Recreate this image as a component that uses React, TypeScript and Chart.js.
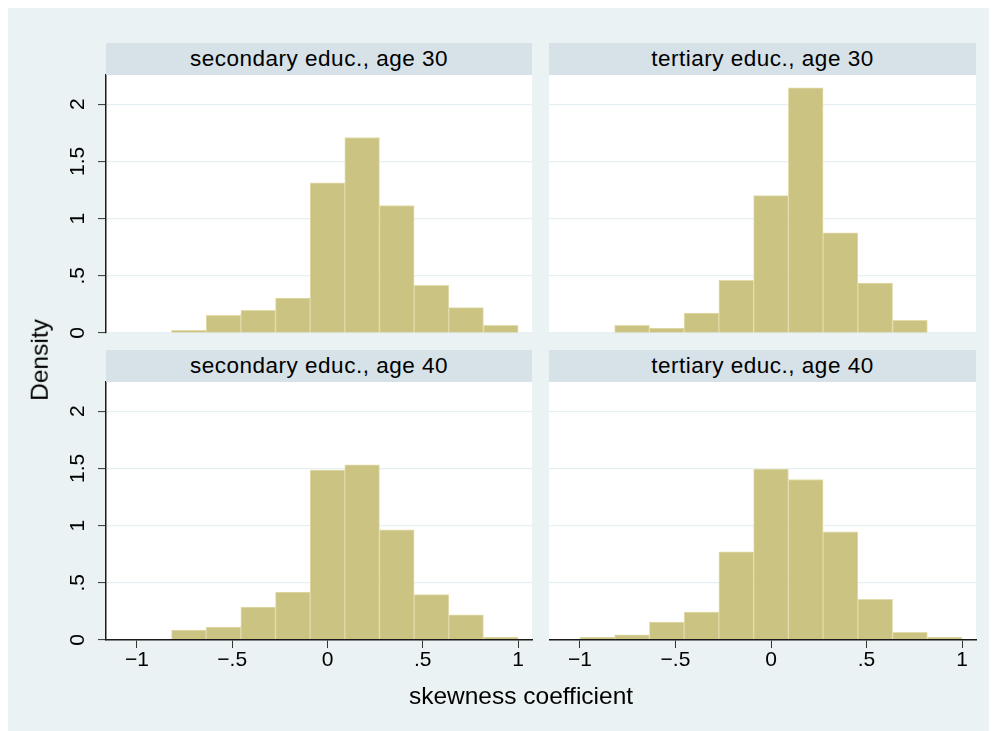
import React, { useEffect, useRef } from 'react';
import { Chart, registerables } from 'chart.js';

Chart.register(...registerables);

// ---- data ----
const binCenters = [-0.9091, -0.7273, -0.5455, -0.3636, -0.1818, 0, 0.1818, 0.3636, 0.5455, 0.7273, 0.9091];
const secondary30 = [null, 0.024, 0.155, 0.199, 0.306, 1.312, 1.709, 1.114, 0.417, 0.222, 0.067];
const tertiary30 = [null, 0.067, 0.044, 0.175, 0.461, 1.201, 2.143, 0.875, 0.437, 0.111, null];
const secondary40 = [null, 0.087, 0.114, 0.288, 0.419, 1.485, 1.531, 0.963, 0.396, 0.221, 0.026];
const tertiary40 = [0.026, 0.046, 0.157, 0.245, 0.771, 1.493, 1.403, 0.946, 0.355, 0.067, 0.026];

const panelTitles = [
  'secondary educ., age 30',
  'tertiary educ., age 30',
  'secondary educ., age 40',
  'tertiary educ., age 40',
];

const xTickValues = [-1, -0.5, 0, 0.5, 1];
const xTickLabels = ['\u22121', '\u2212.5', '0', '.5', '1'];
const yTickValues = [0, 0.5, 1, 1.5, 2];
const yTickLabels = ['0', '.5', '1', '1.5', '2'];
const xAxisTitle = 'skewness coefficient';
const yAxisTitle = 'Density';
const xRange = [-1.162, 1.073];
const yRange = [0, 2.255];

// ---- styles ----
const FONT = '"Liberation Sans", Arial, Helvetica, sans-serif';
const BG = '#eaf2f3';
const STRIP = '#d6e2e8';
const GRID = '#e6eff1';
const AXIS = '#1a1a1a';
const BAR = '#cbc381';
const BAR_EDGE = '#e2dbaa';

const plotBg = {
  id: 'plotBg',
  beforeDraw(chart: any) {
    const { ctx, chartArea: a } = chart;
    ctx.save();
    ctx.fillStyle = '#ffffff';
    ctx.fillRect(a.left, a.top, a.right - a.left, a.bottom - a.top);
    ctx.restore();
  },
};

function labelFor(values: number[], labels: string[], v: number) {
  const i = values.findIndex((t) => Math.abs(t - v) < 1e-9);
  return i >= 0 ? labels[i] : '';
}

type PanelProps = {
  values: (number | null)[];
  showX: boolean;
  showY: boolean;
  left: number;
  top: number;
  width: number;
  height: number;
  yAxisWidth: number;
  xAxisHeight: number;
  padTop: number;
  padBottom: number;
  padRight: number;
};

function Panel(p: PanelProps) {
  const ref = useRef<HTMLCanvasElement>(null);
  useEffect(() => {
    const chart = new Chart(ref.current as HTMLCanvasElement, {
      type: 'bar',
      data: {
        datasets: [
          {
            data: binCenters.map((x, i) => ({ x, y: p.values[i] })) as any,
            backgroundColor: BAR,
            borderColor: BAR_EDGE,
            borderWidth: 1,
            barPercentage: 1,
            categoryPercentage: 1,
          },
        ],
      },
      options: {
        responsive: false,
        animation: false,
        events: [],
        layout: { padding: { top: p.padTop, bottom: p.padBottom, left: 0, right: p.padRight } },
        plugins: { legend: { display: false }, tooltip: { enabled: false }, title: { display: false } },
        scales: {
          x: {
            type: 'linear',
            min: xRange[0],
            max: xRange[1],
            display: p.showX,
            offset: false,
            grid: {
              display: true,
              offset: false,
              drawOnChartArea: false,
              drawTicks: true,
              tickLength: 8,
              tickColor: '#333',
              tickWidth: 1,
            },
            border: { display: true, color: AXIS, width: 1.5, z: 1 },
            ticks: {
              stepSize: 0.5,
              includeBounds: false,
              autoSkip: false,
              minRotation: 0,
              maxRotation: 0,
              padding: 0,
              color: '#000',
              font: { family: FONT, size: 21 },
              callback: (v: any) => labelFor(xTickValues, xTickLabels, Number(v)),
            },
            afterFit: (s: any) => {
              s.height = p.xAxisHeight;
            },
          } as any,
          y: {
            type: 'linear',
            min: yRange[0],
            max: yRange[1],
            grid: { color: GRID, lineWidth: 1.2, drawTicks: p.showY, tickLength: 8, tickColor: '#333', tickWidth: 1 },
            border: { display: p.showY, color: AXIS, width: 1.5, z: 1 },
            ticks: {
              display: p.showY,
              stepSize: 0.5,
              includeBounds: false,
              autoSkip: false,
              minRotation: 90,
              maxRotation: 90,
              crossAlign: 'center',
              padding: 5,
              color: '#000',
              font: { family: FONT, size: 21 },
              callback: (v: any) => labelFor(yTickValues, yTickLabels, Number(v)),
            },
            afterFit: (s: any) => {
              s.width = p.yAxisWidth;
            },
          } as any,
        },
      },
      plugins: [plotBg],
    });
    return () => chart.destroy();
  }, []);
  return (
    <canvas
      ref={ref}
      width={p.width}
      height={p.height}
      style={{ position: 'absolute', left: p.left, top: p.top, width: p.width, height: p.height }}
    />
  );
}

const stripStyle = (left: number, top: number, width: number): React.CSSProperties => ({
  position: 'absolute',
  left,
  top,
  width,
  height: 32,
  background: STRIP,
  color: '#000',
  fontFamily: FONT,
  fontSize: 22.5,
  letterSpacing: '0.5px',
  lineHeight: '32px',
  textAlign: 'center',
  whiteSpace: 'nowrap',
});

export default function App() {
  // plot areas (container coords): left col x 98..524, right col x 541..968
  // top row y 67..325, bottom row y 374..632
  const colL = { left: 40, width: 492, yAxisWidth: 58, padRight: 8 };
  const colR = { left: 541, width: 435, yAxisWidth: 0, padRight: 8 };
  const rowT = { top: 43, height: 306, padTop: 24, padBottom: 24, xAxisHeight: 0, showX: false };
  const rowB = { top: 350, height: 332, padTop: 24, padBottom: 0, xAxisHeight: 50, showX: true };
  const series = [secondary30, tertiary30, secondary40, tertiary40];
  const cells = [
    { col: colL, row: rowT, showY: true },
    { col: colR, row: rowT, showY: false },
    { col: colL, row: rowB, showY: true },
    { col: colR, row: rowB, showY: false },
  ];
  return (
    <div style={{ position: 'relative', width: 981, height: 723, background: BG, overflow: 'hidden' }}>
      {cells.map((c, i) => (
        <Panel
          key={i}
          values={series[i]}
          showX={c.row.showX}
          showY={c.showY}
          left={c.col.left}
          top={c.row.top}
          width={c.col.width}
          height={c.row.height}
          yAxisWidth={c.col.yAxisWidth}
          xAxisHeight={c.row.xAxisHeight}
          padTop={c.row.padTop}
          padBottom={c.row.padBottom}
          padRight={c.col.padRight}
        />
      ))}
      <div style={stripStyle(98, 35, 426)}>{panelTitles[0]}</div>
      <div style={stripStyle(541, 35, 427)}>{panelTitles[1]}</div>
      <div style={stripStyle(98, 342, 426)}>{panelTitles[2]}</div>
      <div style={stripStyle(541, 342, 427)}>{panelTitles[3]}</div>
      <div
        style={{
          position: 'absolute',
          left: 32,
          top: 352,
          transform: 'translate(-50%, -50%) rotate(-90deg)',
          fontFamily: FONT,
          fontSize: 24.5,
          lineHeight: 1,
          whiteSpace: 'nowrap',
          color: '#000',
        }}
      >
        {yAxisTitle}
      </div>
      <div
        style={{
          position: 'absolute',
          left: 513,
          top: 676,
          transform: 'translateX(-50%)',
          fontFamily: FONT,
          fontSize: 24.5,
          lineHeight: 1,
          whiteSpace: 'nowrap',
          color: '#000',
        }}
      >
        {xAxisTitle}
      </div>
    </div>
  );
}
